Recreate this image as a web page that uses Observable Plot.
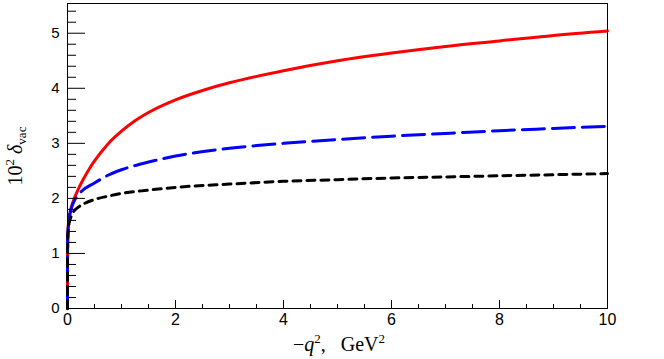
<!DOCTYPE html>
<html><head><meta charset="utf-8">
<script src="https://cdn.jsdelivr.net/npm/d3@7"></script>
<script src="https://cdn.jsdelivr.net/npm/@observablehq/plot@0.6"></script>
<style>body{margin:0;background:#fff}#chart{width:664px;height:359px}</style>
</head><body><div id="chart"></div>
<script>
// -q^2 (GeV^2) and 10^2 delta_vac
const qRed   = [0, 0.0001, 0.001, 0.005, 0.01, 0.03, 0.06, 0.1, 0.15, 0.2, 0.3, 0.4, 0.5, 0.75, 1, 1.25, 1.5, 2, 2.5, 3, 4, 5, 6, 7, 8, 9, 10];
const dRed   = [0, 0.66, 1.02, 1.30, 1.44, 1.65, 1.80, 1.93, 2.06, 2.17, 2.36, 2.53, 2.68, 2.99, 3.22, 3.41, 3.56, 3.79, 3.96, 4.10, 4.32, 4.50, 4.64, 4.76, 4.86, 4.96, 5.04];
const qBlue  = [0, 0.0001, 0.001, 0.005, 0.01, 0.03, 0.06, 0.1, 0.15, 0.25, 0.5, 0.75, 1, 1.5, 2, 3, 4, 5, 6, 7, 8, 9, 10];
const dBlue  = [0, 0.66, 1.02, 1.28, 1.40, 1.62, 1.78, 1.90, 2.0, 2.12, 2.28, 2.42, 2.52, 2.66, 2.77, 2.91, 3.00, 3.07, 3.13, 3.18, 3.23, 3.27, 3.31];
const qBlack = [0, 0.0001, 0.001, 0.005, 0.01, 0.03, 0.067, 0.1, 0.2, 0.3, 0.5, 0.75, 1, 1.5, 2, 3, 4, 5, 6, 7, 8, 9, 10];
const dBlack = [0, 0.66, 1.02, 1.27, 1.37, 1.55, 1.67, 1.74, 1.84, 1.90, 1.98, 2.04, 2.09, 2.15, 2.20, 2.26, 2.31, 2.34, 2.37, 2.39, 2.41, 2.43, 2.45];

const xMajor = [0, 2, 4, 6, 8, 10];
const xMinor = [0.5, 1, 1.5, 2.5, 3, 3.5, 4.5, 5, 5.5, 6.5, 7, 7.5, 8.5, 9, 9.5];
const yMajor = [0, 1, 2, 3, 4, 5];
const yMinor = [0.2, 0.4, 0.6, 0.8, 1.2, 1.4, 1.6, 1.8, 2.2, 2.4, 2.6, 2.8, 3.2, 3.4, 3.6, 3.8, 4.2, 4.4, 4.6, 4.8, 5.2, 5.4];

const toRows = (qs, ds) => qs.map((q, i) => ({q, d: ds[i]}));
const red = toRows(qRed, dRed), blue = toRows(qBlue, dBlue), black = toRows(qBlack, dBlack);

const W = 664, H = 359, mL = 67, mR = 57, mT = 3, mB = 51;
const fw = W - mL - mR, fh = H - mT - mB;

const plot = Plot.plot({
  width: W, height: H,
  marginLeft: mL, marginRight: mR, marginTop: mT, marginBottom: mB,
  style: {fontFamily: "'Liberation Sans', Arial, sans-serif", fontSize: "15px", background: "white", color: "black"},
  x: {domain: [0, 10]},
  y: {domain: [0, 5.54]},
  marks: [
    Plot.line(red, {x: "q", y: "d", stroke: "#ff0000", strokeWidth: 3, curve: "monotone-x"}),
    Plot.line(blue, {x: "q", y: "d", stroke: "#0000ff", strokeWidth: 3, strokeDasharray: "22,8", curve: "monotone-x"}),
    Plot.line(black, {x: "q", y: "d", stroke: "black", strokeWidth: 3, strokeDasharray: "8,6", curve: "monotone-x"}),
    Plot.tickY(yMajor, {y: d => d, insetRight: fw - 18, stroke: "black"}),
    Plot.tickY(yMinor, {y: d => d, insetRight: fw - 9, stroke: "black"}),
    Plot.tickX(xMajor, {x: d => d, insetTop: fh - 8, stroke: "black"}),
    Plot.tickX(xMinor, {x: d => d, insetTop: fh - 4, stroke: "black"}),
    Plot.frame({stroke: "black", strokeWidth: 1}),
    Plot.axisY({ticks: yMajor, tickFormat: d3.format("d"), tickSize: 0, tickPadding: 8, label: null, fontSize: 15}),
    Plot.axisX({ticks: xMajor, tickFormat: d3.format("d"), tickSize: 0, tickPadding: 5, label: null, fontSize: 16})
  ]
});
document.getElementById("chart").appendChild(plot);

const svg = d3.select(plot);
const serif = "'Liberation Serif', 'DejaVu Serif', serif";
const xt = svg.append("text").attr("x", 339).attr("y", 351)
  .attr("text-anchor", "middle").attr("font-family", serif).attr("font-size", 20).attr("fill", "black");
xt.append("tspan").text("\u2212");
xt.append("tspan").attr("font-style", "italic").text("q");
xt.append("tspan").attr("dy", -8).attr("font-size", 13).text("2");
xt.append("tspan").attr("dy", 8).text(",\u00a0\u00a0\u00a0GeV");
xt.append("tspan").attr("dy", -8).attr("font-size", 13).text("2");

const yt = svg.append("text").attr("transform", "translate(22,156) rotate(-90)")
  .attr("text-anchor", "middle").attr("font-family", serif).attr("font-size", 20).attr("fill", "black");
yt.append("tspan").text("10");
yt.append("tspan").attr("dy", -8).attr("font-size", 13).text("2");
yt.append("tspan").attr("dy", 8).text("\u00a0");
yt.append("tspan").attr("font-style", "italic").text("\u03b4");
yt.append("tspan").attr("dy", 4).attr("font-size", 13).text("vac");
</script>
</body></html>
